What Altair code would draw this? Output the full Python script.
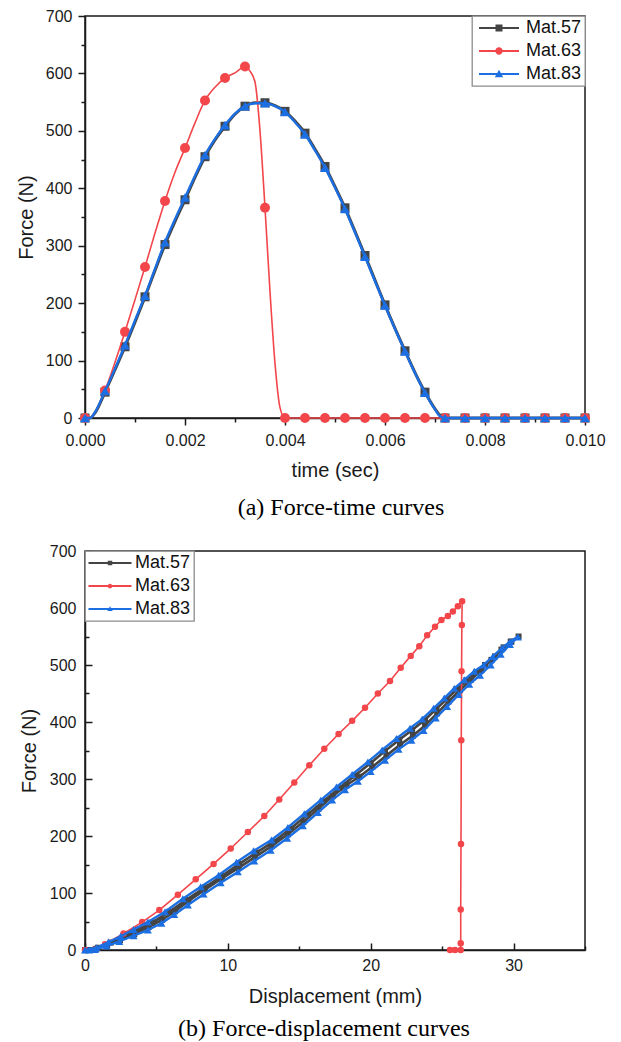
import altair as alt
import pandas as pd

SERIES = ["Mat.57", "Mat.63", "Mat.83"]
COLORS = ["#444444", "#F2464B", "#1C6FE2"]

# ---------------- (a) Force-time ----------------
time_57 = [0.0000, 0.0001, 0.0002, 0.0004, 0.0006, 0.0008, 0.0010, 0.0012, 0.0014, 0.0016,
           0.0018, 0.0020, 0.0022, 0.0024, 0.0026, 0.0028, 0.0030, 0.0032, 0.0034, 0.0036,
           0.0038, 0.0040, 0.0042, 0.0044, 0.0046, 0.0048, 0.0050, 0.0052, 0.0054, 0.0056,
           0.0058, 0.0060, 0.0062, 0.0064, 0.0066, 0.0068, 0.0070, 0.0071, 0.0072, 0.0076,
           0.0080, 0.0084, 0.0088, 0.0092, 0.0096, 0.0100]
force_57 = [0, 0, 9, 45, 84, 124, 167, 211, 257, 302,
            342, 380, 419, 455, 484, 508, 529, 543, 549, 549,
            544, 534, 517, 496, 468, 438, 403, 366, 325, 283,
            240, 197, 156, 117, 79, 45, 16, 4, 0, 0,
            0, 0, 0, 0, 0, 0]
time_83 = list(time_57)
force_83 = [0, 0, 10, 47, 86, 127, 170, 213, 260, 306,
            346, 384, 422, 458, 486, 510, 530, 543, 548, 548,
            543, 533, 515, 494, 466, 436, 401, 364, 323, 281,
            238, 196, 155, 116, 78, 44, 15, 3, 0, 0,
            0, 0, 0, 0, 0, 0]
time_63 = [0.0000, 0.0001, 0.0002, 0.0004, 0.0006, 0.0008, 0.0010, 0.0012, 0.0014, 0.0016,
           0.0018, 0.0020, 0.0022, 0.0024, 0.0026, 0.0028, 0.0030, 0.0032, 0.0033, 0.0034,
           0.0035, 0.0036, 0.0037, 0.0038, 0.0039, 0.0040, 0.0044, 0.0048, 0.0052, 0.0056,
           0.0060, 0.0064, 0.0068, 0.0072, 0.0076, 0.0080, 0.0084, 0.0088, 0.0092, 0.0096,
           0.0100]
force_63 = [0, 0, 10, 48, 97, 150, 206, 263, 322, 378,
            428, 470, 514, 553, 576, 592, 601, 612, 604, 585,
            500, 366, 220, 95, 18, 0, 0, 0, 0, 0,
            0, 0, 0, 0, 0, 0, 0, 0, 0, 0,
            0]

# ---------------- (b) Force-displacement ----------------
disp_57 = [0.0, 0.9, 1.8, 2.7, 3.7, 4.7, 5.9, 7.1, 8.4, 9.6,
           10.8, 12.0, 13.2, 14.4, 15.6, 16.7, 17.8, 18.9, 20.0, 21.0,
           22.0, 22.9, 23.8, 24.6, 25.3, 26.0, 26.7, 27.4, 28.0, 28.7,
           29.3, 29.85, 30.35,
           29.8, 29.15, 28.45, 27.75, 27.0, 26.25, 25.45, 24.65, 23.8, 22.95,
           22.05, 21.1, 20.1, 19.2, 18.3, 17.35, 16.35, 15.3, 14.2, 13.05,
           11.9, 10.75, 9.55, 8.35, 7.25, 6.3, 5.4, 4.45, 3.45, 2.45,
           1.55, 0.75, 0.3]
fd_57 = [0, 4, 13, 23, 36, 48, 67, 88, 110, 130,
         151, 171, 190, 213, 238, 261, 284, 306, 328, 349,
         369, 386, 404, 423, 440, 457, 473, 487, 500, 515,
         531, 541, 550,
         541, 527, 509, 491, 474, 456, 436, 415, 394, 376,
         360, 341, 321, 304, 289, 270, 248, 225, 203, 182,
         163, 144, 125, 105, 86, 68, 53, 40, 28, 17,
         8, 2, 0]
disp_63 = [0.0, 0.7, 1.4, 2.7, 4.0, 5.2, 6.5, 7.75, 9.0, 10.2,
           11.4, 12.55, 13.6, 14.65, 15.7, 16.75, 17.75, 18.7, 19.6, 20.5,
           21.35, 22.1, 22.8, 23.4, 23.95, 24.5, 24.95, 25.4, 25.75, 26.1,
           26.4, 26.38, 26.36, 26.34, 26.32, 26.3, 26.3, 26.3, 25.9, 25.55]
fd_63 = [0, 1, 10, 29, 49, 70, 97, 124, 151, 178,
         207, 235, 264, 294, 324, 353, 379, 402, 425, 450,
         472, 495, 516, 533, 552, 567, 579, 586, 594, 603,
         612, 570, 489, 368, 186, 71, 12, 0, 0, 0]
disp_83 = [0.0, 0.8, 1.65, 2.5, 3.4, 4.4, 5.6, 6.85, 8.1, 9.35,
           10.6, 11.8, 13.05, 14.2, 15.35, 16.5, 17.6, 18.7, 19.8, 20.8,
           21.8, 22.75, 23.6, 24.4, 25.15, 25.85, 26.55, 27.25, 27.9, 28.55,
           29.2, 29.75, 30.3,
           29.75, 29.1, 28.4, 27.65, 26.9, 26.15, 25.35, 24.55, 23.7, 22.85,
           21.95, 21.0, 20.0, 19.1, 18.2, 17.3, 16.3, 15.25, 14.15, 13.0,
           11.85, 10.7, 9.5, 8.3, 7.2, 6.25, 5.35, 4.4, 3.4, 2.4,
           1.5, 0.7, 0.3]
fd_83 = [0, 4, 14, 24, 36, 49, 67, 90, 111, 131,
         154, 174, 193, 215, 239, 263, 286, 308, 330, 351,
         371, 389, 405, 424, 442, 459, 474, 489, 500, 515,
         530, 541, 549,
         536, 519, 500, 482, 466, 448, 427, 407, 385, 368,
         352, 333, 313, 296, 281, 263, 241, 218, 196, 175,
         156, 137, 118, 98, 79, 62, 47, 35, 25, 15,
         7, 1, 0]

# axis tick values
xa_values = [0.000, 0.001, 0.002, 0.003, 0.004, 0.005, 0.006, 0.007, 0.008, 0.009, 0.010]
y_values = [0, 50, 100, 150, 200, 250, 300, 350, 400, 450, 500, 550, 600, 650, 700]
xb_values = [0, 5, 10, 15, 20, 25, 30, 35]

SHAPES = ["square", "circle", "triangle-up"]


def every_fourth(t):
    k = t * 10000
    return abs(k - round(k)) < 1e-6 and int(round(k)) % 4 == 0


def build_frame(xs_list, ys_list, marker_rule):
    rows = []
    for name, xs, ys in zip(SERIES, xs_list, ys_list):
        for i, (x, y) in enumerate(zip(xs, ys)):
            rows.append({"series": name, "x": x, "y": y, "order": i,
                         "marker": bool(marker_rule(x))})
    return pd.DataFrame(rows)


df_a = build_frame([time_57, time_63, time_83], [force_57, force_63, force_83], every_fourth)
df_b = build_frame([disp_57, disp_63, disp_83], [fd_57, fd_63, fd_83], lambda x: True)

W = 500
HA = 402
HB = 399

# ---------- encodings ----------
X_a = alt.X("x:Q", scale=alt.Scale(domain=[0, 0.01], nice=False, zero=False),
            axis=alt.Axis(values=xa_values, title="time (sec)", grid=False,
                          labelExpr="round(datum.value*1000) % 2 == 0 ? format(datum.value, '.3f') : ''",
                          tickSize={"condition": {"test": "round(datum.value*1000) % 2 == 0", "value": 7}, "value": 4},
                          labelPadding=7, titlePadding=12, labelFlush=False, labelOverlap=False))
Y_a = alt.Y("y:Q", scale=alt.Scale(domain=[0, 700], nice=False),
            axis=alt.Axis(values=y_values, title="Force (N)", grid=False,
                          labelExpr="datum.value % 100 == 0 ? datum.label : ''",
                          tickSize={"condition": {"test": "datum.value % 100 == 0", "value": 7}, "value": 4},
                          labelPadding=6, titlePadding=9, labelOverlap=False))

X_b = alt.X("x:Q", scale=alt.Scale(domain=[0, 35], nice=False, zero=False),
            axis=alt.Axis(values=xb_values, title="Displacement (mm)", ticks=False, grid=True,
                          gridColor="#1a1a1a", gridWidth=1.5, gridOpacity=1,
                          gridDash={"condition": {"test": "datum.value % 10 == 0", "value": [0, HB - 7, 7, 3000]},
                                    "value": [0, HB - 4, 4, 3000]},
                          labelExpr="datum.value % 10 == 0 ? datum.label : ''",
                          labelPadding=7, titlePadding=13, labelFlush=False, labelOverlap=False))
Y_b = alt.Y("y:Q", scale=alt.Scale(domain=[0, 700], nice=False),
            axis=alt.Axis(values=y_values, title="Force (N)", ticks=False, grid=True,
                          gridColor="#1a1a1a", gridWidth=1.5, gridOpacity=1,
                          gridDash={"condition": {"test": "datum.value % 100 == 0", "value": [7, 3000]},
                                    "value": [4, 3000]},
                          labelExpr="datum.value % 100 == 0 ? datum.label : ''",
                          labelPadding=9, titlePadding=10, labelOverlap=False))


def legend_paths(half, mk):
    line = "M-%s,-0.2H%sV0.2H-%sZ" % (half, half, half)
    sq = line + " M-%s,-%sH%sV%sH-%sZ" % (mk, mk, mk, mk, mk)
    c = mk * 1.05
    circ = line + " M-%s,0A%s,%s,0,1,1,%s,0A%s,%s,0,1,1,-%s,0Z" % (c, c, c, c, c, c, c)
    t = mk * 1.2
    tri = line + " M0,-%sL%s,%sH-%sZ" % (t, t, round(t * 0.75, 3), t)
    return [sq, circ, tri]


def make_legend(orient, sym_off, lab_off):
    return alt.Legend(title=None, orient=orient, offset=0, padding=3,
                      fillColor="white", strokeColor="#8c8c8c",
                      symbolSize=100, symbolStrokeWidth=0, symbolOpacity=1,
                      symbolOffset=sym_off, labelOffset=lab_off,
                      labelFontSize=18, labelFont="Liberation Sans",
                      labelColor="#111111", rowPadding=5)


def panel(df, X, Y, widths, sizes, interp, legend_orient, paths, sym_off, lab_off,
          caption, height, dx, cap_offset):
    layers = []
    for s, col, shp in zip(SERIES, COLORS, SHAPES):
        base = alt.Chart(df).transform_filter(alt.datum.series == s)
        line = base.mark_line(color=col, strokeWidth=widths[s], interpolate=interp,
                              strokeJoin="round").encode(x=X, y=Y, order="order:Q")
        pts = base.transform_filter("datum.marker").mark_point(
            shape=shp, filled=True, color=col, size=sizes[s], opacity=1, strokeWidth=0
        ).encode(x=X, y=Y)
        layers += [line, pts]
    leg = alt.Chart(df).transform_filter("datum.y < -1").mark_point(filled=True, opacity=1).encode(
        x=X, y=Y,
        color=alt.Color("series:N", scale=alt.Scale(domain=SERIES, range=COLORS),
                        legend=make_legend(legend_orient, sym_off, lab_off)),
        shape=alt.Shape("series:N", scale=alt.Scale(domain=SERIES, range=paths),
                        legend=make_legend(legend_orient, sym_off, lab_off)),
    )
    layers.append(leg)
    return alt.layer(*layers).properties(
        width=W, height=height,
        title=alt.TitleParams(caption, orient="bottom", font="Liberation Serif", fontSize=24,
                              fontWeight="normal", color="#000000", offset=cap_offset,
                              frame="group", anchor="middle", dx=dx))


chart_a = panel(df_a, X_a, Y_a,
                {"Mat.57": 3.0, "Mat.63": 1.6, "Mat.83": 2.4},
                {"Mat.57": 81, "Mat.63": 100, "Mat.83": 100},
                "monotone", "top-right", legend_paths(4, 0.7), 15, 18,
                "(a) Force-time curves", HA, 6, 16)
chart_b = panel(df_b, X_b, Y_b,
                {"Mat.57": 2.6, "Mat.63": 1.6, "Mat.83": 2.4},
                {"Mat.57": 36, "Mat.63": 42, "Mat.83": 64},
                "linear", "top-left", legend_paths(4.3, 0.45), 13, 16,
                "(b) Force-displacement curves", HB, -11, 11)

chart = alt.vconcat(chart_a, chart_b, spacing=21).resolve_scale(
    color="independent", shape="independent"
).properties(
    padding={"left": 15, "top": 7, "right": 5, "bottom": 5}
).configure_axis(
    labelFont="Liberation Sans", labelFontSize=16, labelColor="#1a1a1a",
    titleFont="Liberation Sans", titleFontSize=20, titleFontWeight="normal", titleColor="#1a1a1a",
    domainColor="#1a1a1a", domainWidth=1.5, tickColor="#1a1a1a", tickWidth=1.5
).configure_view(
    stroke="#1a1a1a", strokeWidth=1.5
).configure_legend(
    strokeWidth=1.3, cornerRadius=0
).configure_title(
    font="Liberation Serif"
)

chart.save("out.html", embed_options={"renderer": "svg", "actions": False})
